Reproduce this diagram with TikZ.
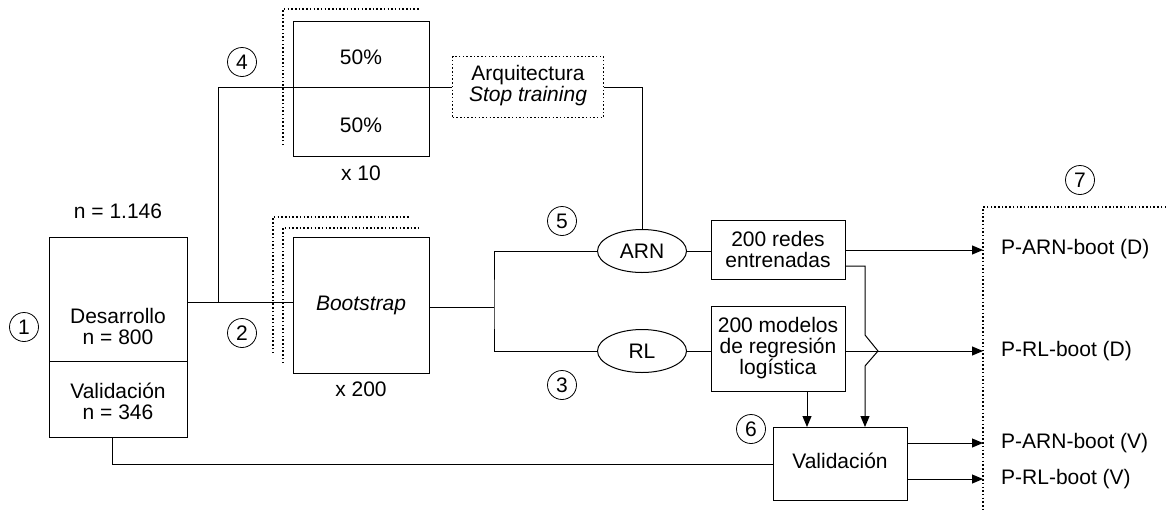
\documentclass[tikz,border=0pt]{standalone}
\usepackage{fontspec}
\setmainfont{Liberation Sans}
\usetikzlibrary{arrows.meta,shapes.geometric}
\begin{document}
\begin{tikzpicture}[x=1pt,y=-1pt,
  every node/.style={font=\fontsize{21}{21}\selectfont, inner sep=0pt},
  box/.style={draw, line width=1pt, anchor=north west},
  dots/.style={line width=1.2pt, dash pattern=on 1.5pt off 2.2pt},
  ell/.style={draw, line width=1pt, ellipse, minimum width=89pt, minimum height=43pt},
  num/.style={draw, circle, line width=0.8pt, minimum size=29pt},
  conn/.style={line width=1pt},
  arr/.style={line width=1pt, -{Triangle[length=11pt,width=9pt]}},
  txt/.style={align=center}
]
\useasboundingbox (0,0) rectangle (1166,509);

% Development / validation sample box
\node[box, minimum width=138pt, minimum height=124pt] (dev) at (49,237) {};
\node[box, minimum width=138pt, minimum height=76pt] (val) at (49,361) {};
\node[txt] (devtxt) at (118,326) {Desarrollo\\n = 800};
\node[txt] (valtxt) at (118,401) {Validación\\n = 346};
\node (ntot) at (118,211) {n = 1.146};

% 50% / 50% box
\draw[dots] (283,145) -- (283,9) -- (420,9);
\node[box, minimum width=136pt, minimum height=135pt] (half) at (293,21) {};
\node (p1) at (361,57) {50\%};
\node (p2) at (361,125) {50\%};
\node (x10) at (361,173) {x 10};

% Arquitectura box
\node[box, dots, minimum width=151pt, minimum height=61pt] (arq) at (452,56) {};
\node[txt] (arqtxt) at (528,86) {Arquitectura\\\textit{Stop training}};

% Bootstrap box
\draw[dots] (273,353) -- (273,217) -- (409,217);
\draw[dots] (283,363) -- (283,228) -- (419,228);
\node[box, minimum width=136pt, minimum height=136pt] (boot) at (293,237) {};
\node (boottxt) at (361,305) {\textit{Bootstrap}};
\node (x200) at (361,389) {x 200};

% Models
\node[ell] (arn) at (642,251) {ARN};
\node[ell] (rl) at (642,351) {RL};
\node[box, minimum width=134pt, minimum height=59pt] (redes) at (711,220) {};
\node[txt] (redestxt) at (778,249) {200 redes\\entrenadas};
\node[box, minimum width=134pt, minimum height=85pt] (mod) at (711,306) {};
\node[txt] (modtxt) at (778,348) {200 modelos\\de regresión\\logística};
\node[box, minimum width=134pt, minimum height=73pt] (vbox) at (773,427) {};
\node (vboxtxt) at (840,461) {Validación};

% Output region
\draw[dots] (1166,207) -- (983,207) -- (983,509);
\coordinate (outx) at (983,0);
\node[anchor=west] (o1) at (1001,249) {P-ARN-boot (D)};
\node[anchor=west] (o2) at (1001,351) {P-RL-boot (D)};
\node[anchor=west] (o3) at (1001,443) {P-ARN-boot (V)};
\node[anchor=west] (o4) at (1001,479) {P-RL-boot (V)};

% Step numbers
\node[num] (n1) at (24,327) {1};
\node[num] (n2) at (242,333) {2};
\node[num] (n3) at (562,385) {3};
\node[num] (n4) at (242,62) {4};
\node[num] (n5) at (562,221) {5};
\node[num] (n6) at (751,429) {6};
\node[num] (n7) at (1080,180) {7};

% Connectors
\coordinate (j1) at (218,302);
\draw[conn] (dev.east |- j1) -- (boot.west |- j1);
\draw[conn] (j1) |- (arq.west);
\draw[conn] (arq.east) -| (arn.north);
\coordinate (j2) at (494,307);
\draw[conn] (boot.east |- j2) -- (j2);
\draw[conn] (arn.west) -| (j2) |- (rl.west);
\draw[conn] (arn.east) -- (arn.east -| redes.west);
\draw[conn] (rl.east) -- (rl.east -| mod.west);
\draw[arr] (redes.east) -- (redes.east -| outx);
\draw[arr] (mod.east |- rl.east) -- (rl.east -| outx);
\coordinate (r1) at (845,266);
\draw[arr] (r1) -- (865,266) -- (865,335) -- (878,351) -- (865,366) -- (865,427 |- vbox.north);
\draw[arr] (mod.south -| 807,0) -- (vbox.north -| 807,0);
\draw[conn] (val.south -| 112,0) |- (vbox.west);
\coordinate (v1) at (907,443);
\coordinate (v2) at (907,479);
\draw[arr] (v1) -- (v1 -| outx);
\draw[arr] (v2) -- (v2 -| outx);
\end{tikzpicture}
\end{document}
